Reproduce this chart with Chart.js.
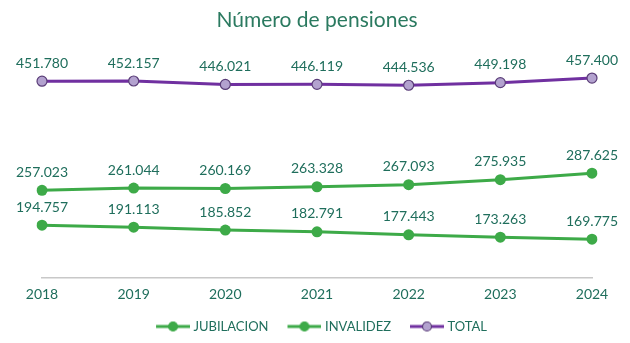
<!DOCTYPE html>
<html>
<head>
<meta charset="utf-8">
<script src="https://cdn.jsdelivr.net/npm/chart.js@4"></script>
<style>
  html, body { margin: 0; padding: 0; background: #fff; }
  #wrap { width: 630px; height: 343px; }
</style>
</head>
<body>
<div id="wrap"><canvas id="myChart"></canvas></div>
<script>
const years = ['2018', '2019', '2020', '2021', '2022', '2023', '2024'];
const jubilacion = [257023, 261044, 260169, 263328, 267093, 275935, 287625];
const invalidez = [194757, 191113, 185852, 182791, 177443, 173263, 169775];
const total = [451780, 452157, 446021, 446119, 444536, 449198, 457400];

const textColor = '#1f6e5c';
const green = '#3daa48';
const purple = '#7030a0';

// 451780 -> "451.780"
function fmt(v) {
  return String(v).replace(/\B(?=(\d{3})+(?!\d))/g, '.');
}

// legend marker: short line with a dot, with some blank room on the left
function legendIcon(lineColor, dotFill, dotBorder) {
  const c = document.createElement('canvas');
  c.width = 46; c.height = 12;
  const g = c.getContext('2d');
  g.strokeStyle = lineColor;
  g.lineWidth = 3;
  g.beginPath(); g.moveTo(12, 6); g.lineTo(46, 6); g.stroke();
  g.beginPath(); g.arc(29, 6, 4.5, 0, Math.PI * 2);
  g.fillStyle = dotFill; g.fill();
  g.lineWidth = 1.2; g.strokeStyle = dotBorder; g.stroke();
  return c;
}

const valueLabels = {
  id: 'valueLabels',
  afterDatasetsDraw(chart) {
    const c = chart.ctx;
    c.save();
    c.font = '14px Lato';
    c.fillStyle = textColor;
    c.textAlign = 'center';
    c.textBaseline = 'bottom';
    chart.data.datasets.forEach(function(ds, i) {
      chart.getDatasetMeta(i).data.forEach(function(pt, j) {
        c.fillText(fmt(ds.data[j]), pt.x, pt.y - 11);
      });
    });
    c.restore();
  }
};

const ctx = document.getElementById('myChart');
new Chart(ctx, {
  type: 'line',
  data: {
    labels: years,
    datasets: [{
      label: 'JUBILACION',
      data: jubilacion,
      borderColor: green,
      backgroundColor: green,
      borderWidth: 3,
      pointRadius: 5.5,
      pointBorderWidth: 0
    }, {
      label: 'INVALIDEZ',
      data: invalidez,
      borderColor: green,
      backgroundColor: green,
      borderWidth: 3,
      pointRadius: 5.5,
      pointBorderWidth: 0
    }, {
      label: 'TOTAL',
      data: total,
      borderColor: purple,
      backgroundColor: '#b3a2cf',
      borderWidth: 3,
      pointRadius: 5,
      pointBorderWidth: 1.2,
      pointBorderColor: '#5a3d78'
    }]
  },
  options: {
    responsive: true,
    maintainAspectRatio: false,
    animation: false,
    layout: { padding: { left: 42, right: 38, top: 0, bottom: 0 } },
    scales: {
      x: {
        offset: false,
        grid: { display: false },
        border: { color: '#c8c8c8', width: 1.5 },
        ticks: { color: textColor, font: { family: 'Lato', size: 14 }, padding: 0 },
        afterFit: function(scale) { scale.height += 7; }
      },
      y: {
        display: false,
        min: 100000,
        max: 500000
      }
    },
    plugins: {
      title: {
        display: true,
        text: 'Número de pensiones',
        color: '#2b7a60',
        font: { family: 'Lato', size: 21, weight: 'normal' },
        padding: { top: 8, bottom: 21 }
      },
      legend: {
        position: 'bottom',
        labels: {
          color: textColor,
          font: { family: 'Lato', size: 13 },
          usePointStyle: true,
          pointStyleWidth: 40,
          padding: 10,
          generateLabels: function(chart) {
            const icons = [
              legendIcon(green, green, green),
              legendIcon(green, green, green),
              legendIcon(purple, '#b3a2cf', '#5a3d78')
            ];
            return chart.data.datasets.map(function(ds, i) {
              return {
                text: ds.label,
                fontColor: textColor,
                pointStyle: icons[i],
                datasetIndex: i,
                hidden: false,
                lineWidth: 0
              };
            });
          }
        }
      },
      tooltip: { enabled: false }
    }
  },
  plugins: [valueLabels]
});
</script>
</body>
</html>
